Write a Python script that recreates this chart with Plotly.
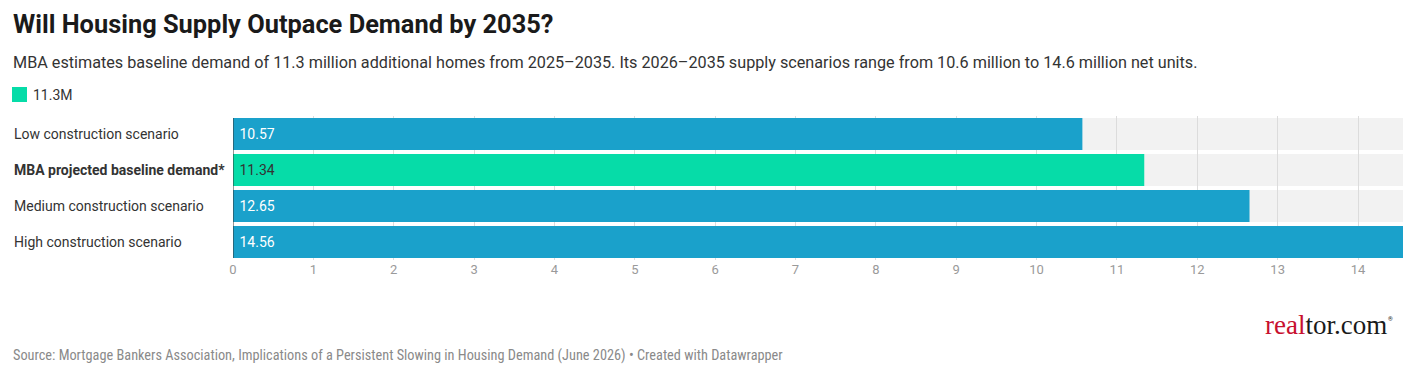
import plotly.graph_objects as go

categories = ["Low construction scenario", "MBA projected baseline demand*",
              "Medium construction scenario", "High construction scenario"]
values = [10.57, 11.34, 12.65, 14.56]
bar_colors = ["#1aa1cb", "#06dca8", "#1aa1cb", "#1aa1cb"]
label_colors = ["#ffffff", "#333333", "#ffffff", "#ffffff"]
bold = [False, True, False, False]
tick_vals = list(range(0, 15))

W, H = 1416, 375
L, R, T, B = 233, 13, 116, 115
PT, PB = T, H - B


def py(p):
    return (PB - p) / (PB - PT)


def px(p):
    return (p - L) / (W - L - R)


font = "Roboto, 'Open Sans', sans-serif"
xmax = max(values)

fig = go.Figure()
fig.add_trace(go.Bar(
    y=categories, x=values, orientation="h",
    marker=dict(color=bar_colors, line=dict(width=0)),
    text=[f"\u00a0{v:.2f}" for v in values],
    textposition="inside", insidetextanchor="start",
    textfont=dict(family=font, size=14, color=label_colors),
    cliponaxis=False, hoverinfo="skip", showlegend=False,
))

shapes = []
for i, c in enumerate(categories):
    shapes.append(dict(type="rect", xref="x", yref="y", x0=0, x1=xmax,
                       y0=i - 0.445, y1=i + 0.445, fillcolor="#f2f2f2",
                       line=dict(width=0), layer="below"))
shapes.append(dict(type="line", xref="x", yref="paper", x0=0, x1=0,
                   y0=py(258), y1=py(118), line=dict(color="#333333", width=1),
                   layer="above"))
# legend swatch
shapes.append(dict(type="rect", xref="paper", yref="paper",
                   x0=px(12), x1=px(27), y0=py(102), y1=py(87),
                   fillcolor="#06dca8", line=dict(width=0)))

annotations = [
    dict(text="<b>Will Housing Supply Outpace Demand by 2035?</b>", x=px(11), y=py(24),
         xref="paper", yref="paper", xanchor="left", yanchor="middle", showarrow=False,
         font=dict(family=font, size=25.4, color="#1a1a1a")),
    dict(text="MBA estimates baseline demand of 11.3 million additional homes from 2025–2035. "
              "Its 2026–2035 supply scenarios range from 10.6 million to 14.6 million net units.",
         x=px(11), y=py(62), xref="paper", yref="paper", xanchor="left", yanchor="middle",
         showarrow=False, font=dict(family=font, size=16.2, color="#333333")),
    dict(text="11.3M", x=px(31), y=py(95), xref="paper", yref="paper", xanchor="left",
         yanchor="middle", showarrow=False, font=dict(family=font, size=14, color="#333333")),
    dict(text="Source: Mortgage Bankers Association, Implications of a Persistent Slowing in "
              "Housing Demand (June 2026) • Created with Datawrapper",
         x=px(11), y=py(355), xref="paper", yref="paper", xanchor="left", yanchor="middle",
         showarrow=False, font=dict(family="'Liberation Sans Narrow', 'Roboto Condensed', Roboto", size=14.3, color="#8a8a8a")),
    dict(text="<span style='color:#c8102e'>real</span><span style='color:#1a1a1a'>tor.com</span>",
         x=px(1389), y=py(325), xref="paper", yref="paper", xanchor="right", yanchor="middle",
         showarrow=False, font=dict(family="'Liberation Serif', 'DejaVu Serif', serif", size=27)),
    dict(text="®", x=px(1386), y=py(318), xref="paper", yref="paper", xanchor="left", yanchor="middle",
         showarrow=False, font=dict(family=font, size=6, color="#1a1a1a")),
]
for i, c in enumerate(categories):
    annotations.append(dict(
        text=f"<b>{c}</b>" if bold[i] else c, x=px(12), xref="paper", y=c, yref="y",
        xanchor="left", yanchor="middle", showarrow=False,
        font=dict(family=font, size=14, color="#333333")))

fig.update_layout(
    width=W, height=H, margin=dict(l=L, r=R, t=T, b=B),
    paper_bgcolor="white", plot_bgcolor="white",
    barmode="overlay", bargap=0.11,
    shapes=shapes, annotations=annotations,
    xaxis=dict(range=[0, xmax], tickvals=tick_vals, showgrid=True, gridcolor="#dcdcdc",
               gridwidth=1, zeroline=False, showline=False, ticks="",
               tickfont=dict(family=font, size=13, color="#9a9a9a")),
    yaxis=dict(autorange="reversed", showticklabels=False, showgrid=False,
               zeroline=False, showline=False),
    font=dict(family=font),
)

fig.write_html("out.html")
